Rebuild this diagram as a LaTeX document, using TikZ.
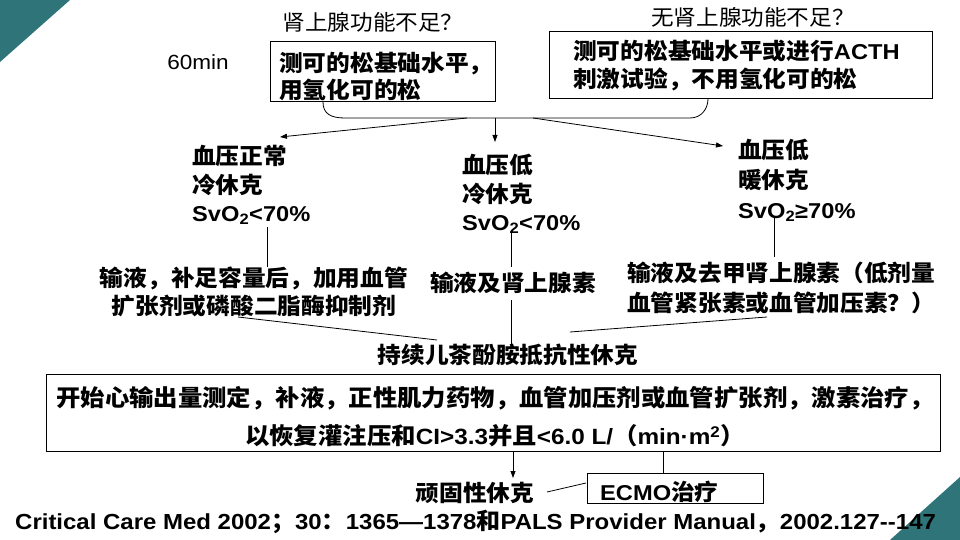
\documentclass[tikz,border=0pt]{standalone}
\usepackage{fontspec}
\setmainfont{Liberation Sans}[FakeStretch=1.1]
\newfontfamily\cjk{Noto Sans CJK SC}[FakeStretch=1.05,Scale=1.05]
\newcommand\zh[1]{{\cjk #1}}
\usetikzlibrary{arrows.meta}
\definecolor{deco}{RGB}{46,116,120}
\begin{document}
\begin{tikzpicture}[x=1pt,y=-1pt,
  hd/.style={inner sep=0pt, font=\fontsize{20.5}{24}\selectfont},
  tx/.style={inner sep=0pt, align=left, font=\fontsize{21.5}{28.5}\selectfont\bfseries},
  rect/.style={draw, line width=1pt, inner sep=0pt},
  ln/.style={line width=0.8pt},
  arr/.style={ln, -{Triangle[length=7pt,width=5pt]}}]
\useasboundingbox (0,0) rectangle (960,540);
% decorative corners
\fill[deco] (0,0) -- (70,0) -- (0,62) -- cycle;
\fill[deco] (960,477) -- (960,540) -- (890,540) -- cycle;

% headings
\node[hd] (h1) at (373,22) {\zh{肾上腺功能不足？}};
\node[hd] (h2) at (753,17) {\zh{无肾上腺功能不足？}};
\node[hd] (m60) at (198,62) {60min};

% top boxes
\node[rect, minimum width=225pt, minimum height=60pt] (box1) at (382.5,72) {};
\node[tx, anchor=north west, font=\fontsize{21.5}{27}\selectfont\bfseries] (b1t) at (279,52) {\zh{测可的松基础水平，}\\\zh{用氢化可的松}};
\node[rect, minimum width=383pt, minimum height=67pt] (box2) at (740.5,65.5) {};
\node[tx, anchor=north west, font=\fontsize{21.5}{28}\selectfont\bfseries] (b2t) at (573,40) {\zh{测可的松基础水平或进行}ACTH\\\zh{刺激试验，不用氢化可的松}};

% brace under boxes
\coordinate (brL) at (323,102);
\coordinate (brA) at (345,118);
\coordinate (brB) at (690,118);
\coordinate (brR) at (708,99);
\draw[ln] (brL) .. controls +(0,12) and +(-14,0) .. (brA) -- (brB) .. controls +(12,0) and +(0,9) .. (brR);

% three branches
\node[tx, anchor=north west] (n1) at (192,145) {\zh{血压正常}\\\zh{冷休克}\\SvO\textsubscript{2}<70\%};
\node[tx, anchor=north west] (n2) at (462,154) {\zh{血压低}\\\zh{冷休克}\\SvO\textsubscript{2}<70\%};
\node[tx, anchor=north west, font=\fontsize{21.5}{30}\selectfont\bfseries] (n3) at (738,139) {\zh{血压低}\\\zh{暖休克}\\SvO\textsubscript{2}≥70\%};

\coordinate (s1) at (467,118); \coordinate (e1) at (280,137);
\coordinate (s2) at (495,118); \coordinate (e2) at (495,142);
\coordinate (s3) at (533,118); \coordinate (e3) at (723,146);
\draw[arr] (s1) -- (e1);
\draw[arr] (s2) -- (e2);
\draw[arr] (s3) -- (e3);

% treatments
\node[tx, anchor=north, align=center, font=\fontsize{21.5}{28}\selectfont\bfseries] (t1) at (254,267) {\zh{输液，补足容量后，加用血管}\\\zh{扩张剂或磷酸二脂酶抑制剂}};
\node[tx] (t2) at (513,283) {\zh{输液及肾上腺素}};
\node[tx, anchor=north west, font=\fontsize{21.5}{30}\selectfont\bfseries] (t3) at (627,262) {\zh{输液及去甲肾上腺素（低剂量}\\\zh{血管紧张素或血管加压素？）}};

\coordinate (v1a) at (267,227); \coordinate (v1b) at (267,267);
\coordinate (v2a) at (511,230); \coordinate (v2b) at (511,267);
\coordinate (v3a) at (774,217); \coordinate (v3b) at (774,257);
\draw[ln] (v1a) -- (v1b);
\draw[ln] (v2a) -- (v2b);
\draw[ln] (v3a) -- (v3b);

\node[tx] (t4) at (508,355) {\zh{持续儿茶酚胺抵抗性休克}};
\coordinate (c1a) at (238,317); \coordinate (c1b) at (437,340);
\coordinate (c2a) at (511,300); \coordinate (c2b) at (511,347);
\coordinate (c3a) at (767,317); \coordinate (c3b) at (570,332);
\draw[ln] (c1a) -- (c1b);
\draw[ln] (c2a) -- (c2b);
\draw[ln] (c3a) -- (c3b);

% big box
\node[rect, minimum width=894pt, minimum height=77pt] (big) at (493,412.5) {};
\node[tx, anchor=north, align=center, font=\fontsize{22.1}{38}\selectfont\bfseries] (bigt) at (495,386.5) {\zh{开始心输出量测定，补液，正性肌力药物，血管加压剂或血管扩张剂，激素治疗，}\\\zh{以恢复灌注压和}CI>3.3\zh{并且}<6.0 L/\zh{（}min·m\textsuperscript{2}\zh{）}};

% bottom
\node[tx] (t5) at (475,493) {\zh{顽固性休克}};
\node[rect, minimum width=176pt, minimum height=30pt] (ecmo) at (675,488) {};
\node[tx, anchor=west] (ecmot) at (600,492) {ECMO\zh{治疗}};
\coordinate (d1a) at (513,451); \coordinate (d1b) at (513,478);
\coordinate (d2a) at (663,451); \coordinate (d2b) at (663,473);
\coordinate (d3a) at (547,492); \coordinate (d3b) at (586,483);
\draw[arr] (d1a) -- (d1b);
\draw[ln] (d2a) -- (d2b);
\draw[ln] (d3a) -- (d3b);

% footer
\node[tx, anchor=west, font=\fontsize{21.8}{26}\selectfont\bfseries] (foot) at (15,522) {Critical Care Med 2002\zh{；}30\zh{：}1365—1378\zh{和}PALS Provider Manual\zh{，}2002.127-{}-147};
\end{tikzpicture}
\end{document}
